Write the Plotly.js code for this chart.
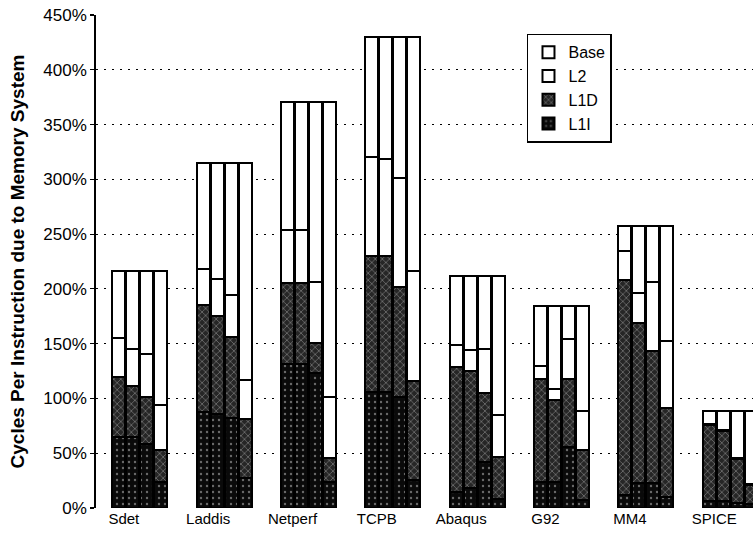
<!DOCTYPE html>
<html><head><meta charset="utf-8">
<script src="https://cdn.plot.ly/plotly-3.0.1.min.js"></script>
<style>html,body{margin:0;padding:0;background:#fff}#chart{width:753px;height:537px}</style>
</head><body><div id="chart"></div>
<script>
// Workloads (x categories); each has four bars (configurations)
const workloads = ['Sdet', 'Laddis', 'Netperf', 'TCPB', 'Abaqus', 'G92', 'MM4', 'SPICE'];

// Stacked components (% CPI due to memory system), 4 bars per workload
const l1i  = [[65,65,58,24], [88,86,82,27], [131,131,123,24], [106,106,101,26], [15,18,42,8],  [24,24,56,7],  [12,23,23,10], [6,6,5,4]];
const l1d  = [[55,46,43,29], [97,89,74,54], [74,74,28,22],    [124,124,101,90], [114,107,63,39], [94,75,62,46], [196,146,120,81], [70,64,40,17]];
const l2   = [[35,34,40,41], [33,34,38,36], [49,49,55,55],    [90,89,99,100],   [20,19,40,38], [12,10,36,36], [27,27,63,61], [1,1,1,1]];
const base = [[61,71,75,122],[97,106,121,198],[117,117,165,270],[110,111,129,214],[63,68,67,127],[54,75,30,95], [22,61,51,105],[12,18,43,67]];

const yTicks = [0, 50, 100, 150, 200, 250, 300, 350, 400, 450];

const SLOT = 0.166, BARW = 0.155, LABEL_SHIFT = 0.19;
const xs = [];
workloads.forEach((w, i) => { for (let j = 0; j < 4; j++) xs.push(i + (j - 1.5) * SLOT); });
const flat = a => a.reduce((acc, g) => acc.concat(g), []);

const FONT = 'Liberation Sans, Arial, Helvetica, sans-serif';
const line = {color: '#000', width: 2};

const traces = [
  {name: 'L1I', values: l1i, marker: {color: '#0a0a0a', line: line,
     pattern: {shape: '.', bgcolor: '#0a0a0a', fgcolor: '#6a6a6a', size: 6, solidity: 0.12}}},
  {name: 'L1D', values: l1d, marker: {color: '#2a2a2a', line: line,
     pattern: {shape: 'x', bgcolor: '#262626', fgcolor: '#8c8c8c', size: 5, solidity: 0.22}}},
  {name: 'L2', values: l2, marker: {color: '#fff', line: line}},
  {name: 'Base', values: base, marker: {color: '#fff', line: line}}
].map(t => ({
  type: 'bar', name: t.name, x: xs, y: flat(t.values), width: BARW,
  marker: t.marker, hoverinfo: 'skip'
}));

const layout = {
  width: 753, height: 537,
  margin: {l: 96, r: 0, t: 15, b: 29, pad: 0},
  paper_bgcolor: '#fff', plot_bgcolor: '#fff',
  barmode: 'stack',
  font: {family: FONT, color: '#000', size: 15},
  showlegend: true,
  legend: {
    x: 0.656, y: 0.962, xanchor: 'left', yanchor: 'top',
    traceorder: 'reversed', bordercolor: '#000', borderwidth: 1.5, bgcolor: '#fff',
    font: {family: FONT, size: 16, color: '#000'}, itemwidth: 30, tracegroupgap: 0
  },
  xaxis: {
    range: [-0.52, 7.27], showgrid: false, zeroline: false, showline: false,
    tickvals: workloads.map((w, i) => i - LABEL_SHIFT), ticktext: workloads,
    ticks: '', tickfont: {family: FONT, size: 15, color: '#000'}, automargin: false
  },
  yaxis: {
    range: [0, 450], tickvals: yTicks, ticktext: yTicks.map(v => v + '%'),
    showline: true, linecolor: '#000', linewidth: 1.8, mirror: false,
    ticks: 'outside', ticklen: 4, tickcolor: '#000', tickwidth: 1.2,
    tickfont: {family: FONT, size: 17, color: '#000'},
    showgrid: true, gridcolor: '#000', gridwidth: 1.2, griddash: '1.5px,6.5px',
    zeroline: false, automargin: false,
    title: {text: 'Cycles Per Instruction due to Memory System',
            font: {family: FONT, size: 19, color: '#000', weight: 'bold'}, standoff: 14}
  }
};

Plotly.newPlot('chart', traces, layout, {staticPlot: true, displayModeBar: false});
</script>
</body></html>
